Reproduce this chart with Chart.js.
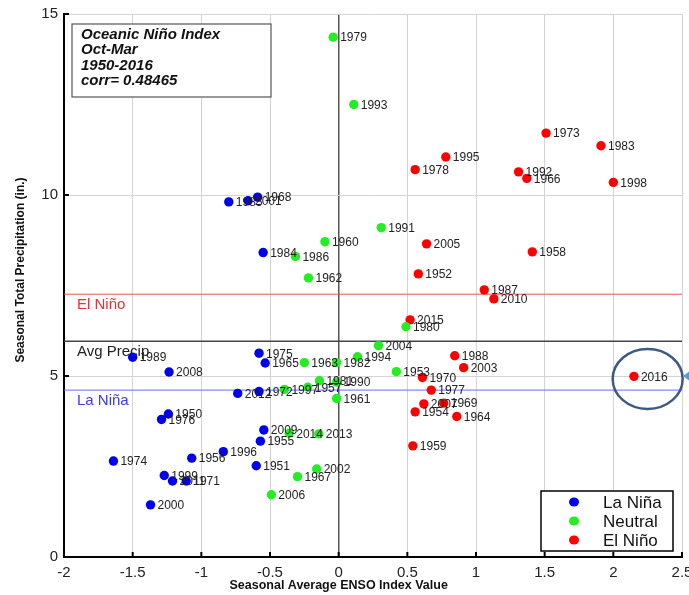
<!DOCTYPE html>
<html>
<head>
<meta charset="utf-8">
<script src="https://cdn.jsdelivr.net/npm/chart.js@4.4.0/dist/chart.umd.min.js"></script>
<style>
  html, body { margin: 0; padding: 0; background: #fff; }
</style>
</head>
<body>
<canvas id="enso-chart" width="689" height="595"></canvas>
<script>
// La Niña winters
const ninaYears  = [1985, 2001, 1968, 1984, 1989, 2008, 1975, 1965, 2012, 1972, 1950, 1976, 2009, 1955, 1996, 1956, 1974, 1951, 1999, 2011, 1971, 2000];
const ninaEnso   = [-0.80, -0.66, -0.59, -0.55, -1.50, -1.235, -0.58, -0.535, -0.735, -0.58, -1.24, -1.29, -0.545, -0.57, -0.84, -1.07, -1.64, -0.60, -1.27, -1.21, -1.11, -1.37];
const ninaPrecip = [9.81, 9.84, 9.94, 8.41, 5.52, 5.11, 5.63, 5.36, 4.52, 4.57, 3.95, 3.80, 3.51, 3.20, 2.91, 2.73, 2.65, 2.52, 2.25, 2.10, 2.10, 1.44];

// Neutral winters
const neutralYears  = [1979, 1993, 1991, 1960, 1986, 1962, 1980, 2004, 1994, 1963, 1982, 1953, 1981, 1990, 1997, 1957, 1961, 2014, 2013, 2002, 1967, 2006];
const neutralEnso   = [-0.04, 0.11, 0.31, -0.10, -0.315, -0.22, 0.49, 0.29, 0.137, -0.25, -0.015, 0.42, -0.14, -0.015, -0.395, -0.225, -0.015, -0.36, -0.145, -0.16, -0.30, -0.49];
const neutralPrecip = [14.36, 12.5, 9.10, 8.71, 8.30, 7.71, 6.36, 5.84, 5.53, 5.37, 5.37, 5.12, 4.87, 4.83, 4.63, 4.69, 4.38, 3.42, 3.40, 2.43, 2.22, 1.72];

// El Niño winters
const ninoYears  = [1973, 1983, 1995, 1978, 1992, 1966, 1998, 2005, 1958, 1952, 1987, 2010, 2015, 1988, 2003, 1970, 2016, 1977, 2007, 1969, 1954, 1964, 1959];
const ninoEnso   = [1.51, 1.91, 0.78, 0.557, 1.31, 1.37, 2.00, 0.64, 1.41, 0.58, 1.06, 1.13, 0.52, 0.845, 0.91, 0.61, 2.15, 0.674, 0.62, 0.765, 0.557, 0.86, 0.54];
const ninoPrecip = [11.71, 11.36, 11.05, 10.70, 10.64, 10.46, 10.35, 8.65, 8.43, 7.82, 7.38, 7.13, 6.55, 5.56, 5.23, 4.96, 4.99, 4.61, 4.23, 4.25, 4.01, 3.88, 3.07];

// reference lines
const elNinoLevel = 7.26;
const avgPrecipLevel = 5.96;
const laNinaLevel = 4.61;

const infoLines = ['Oceanic Niño Index', 'Oct-Mar', '1950-2016', 'corr= 0.48465'];

function toPoints(xs, ys) {
    return xs.map((x, i) => ({ x: x, y: ys[i] }));
}

const seriesYears = [ninaYears, neutralYears, ninoYears];

function drawThresholds(chart) {
    const ctx = chart.ctx;
    const area = chart.chartArea;
    const y = chart.scales.y;
    const lines = [
        { v: elNinoLevel, color: '#f05050', width: 1, text: 'El Niño', textColor: '#e83030', dy: 11 },
        { v: avgPrecipLevel, color: '#444', width: 1.3, text: 'Avg Precip', textColor: '#222', dy: 11 },
        { v: laNinaLevel, color: '#6a6aff', width: 1, text: 'La Niña', textColor: '#3a3ae8', dy: 11 }
    ];
    ctx.save();
    lines.forEach(l => {
        const py = y.getPixelForValue(l.v);
        ctx.strokeStyle = l.color;
        ctx.lineWidth = l.width;
        ctx.beginPath();
        ctx.moveTo(area.left, py);
        ctx.lineTo(area.right, py);
        ctx.stroke();
        ctx.fillStyle = l.textColor;
        ctx.font = '15px "Liberation Sans", Arial, sans-serif';
        ctx.textAlign = 'left';
        ctx.textBaseline = 'middle';
        ctx.fillText(l.text, area.left + 13, py + l.dy);
    });
    // inward tick marks on the axes
    ctx.strokeStyle = '#000';
    ctx.lineWidth = 2;
    chart.scales.y.ticks.forEach(t => {
        const py = y.getPixelForValue(t.value);
        ctx.beginPath();
        ctx.moveTo(area.left, py);
        ctx.lineTo(area.left + 5, py);
        ctx.stroke();
    });
    chart.scales.x.ticks.forEach(t => {
        const px = chart.scales.x.getPixelForValue(t.value);
        ctx.beginPath();
        ctx.moveTo(px, area.bottom);
        ctx.lineTo(px, area.bottom - 5);
        ctx.stroke();
    });
    ctx.restore();
}

function drawOverlay(chart) {
    const ctx = chart.ctx;
    const area = chart.chartArea;
    const xs = chart.scales.x;
    const ys = chart.scales.y;
    ctx.save();

    // year labels next to each dot
    ctx.font = '12px "Liberation Sans", Arial, sans-serif';
    ctx.fillStyle = '#222';
    ctx.textAlign = 'left';
    ctx.textBaseline = 'middle';
    chart.data.datasets.forEach((ds, di) => {
        const meta = chart.getDatasetMeta(di);
        meta.data.forEach((el, i) => {
            ctx.fillText(String(seriesYears[di][i]), el.x + 7, el.y + 1);
        });
    });

    // info box
    ctx.fillStyle = '#fff';
    ctx.strokeStyle = '#555';
    ctx.lineWidth = 1.2;
    ctx.fillRect(72, 24, 199, 73);
    ctx.strokeRect(72, 24, 199, 73);
    ctx.fillStyle = '#111';
    ctx.font = 'italic bold 15px "Liberation Sans", Arial, sans-serif';
    infoLines.forEach((t, i) => {
        ctx.fillText(t, 81, 35 + i * 15.2);
    });

    // legend box
    const lx = 541, ly = 491, lw = 132, lh = 60;
    ctx.fillStyle = '#fff';
    ctx.fillRect(lx, ly, lw, lh);
    ctx.strokeStyle = '#000';
    ctx.lineWidth = 1.5;
    ctx.strokeRect(lx, ly, lw, lh);
    ctx.font = '17px "Liberation Sans", Arial, sans-serif';
    chart.data.datasets.forEach((ds, i) => {
        const cy = ly + 11 + i * 19;
        ctx.fillStyle = ds.backgroundColor;
        ctx.beginPath();
        ctx.ellipse(lx + 33, cy, 5, 4.5, 0, 0, Math.PI * 2);
        ctx.fill();
        ctx.fillStyle = '#111';
        ctx.fillText(ds.label, lx + 62, cy + 1);
    });

    // circle around 2016
    ctx.strokeStyle = '#3d5a80';
    ctx.lineWidth = 2.5;
    ctx.beginPath();
    ctx.ellipse(xs.getPixelForValue(2.25), ys.getPixelForValue(4.92), 35, 30, 0, 0, Math.PI * 2);
    ctx.stroke();

    // arrow tip at right edge
    const ay = ys.getPixelForValue(5.0);
    ctx.fillStyle = '#5b9bd5';
    ctx.beginPath();
    ctx.moveTo(area.right + 1, ay);
    ctx.lineTo(area.right + 9, ay - 6);
    ctx.lineTo(area.right + 9, ay + 6);
    ctx.closePath();
    ctx.fill();

    // axis titles
    ctx.fillStyle = '#111';
    ctx.font = 'bold 12.5px "Liberation Sans", Arial, sans-serif';
    ctx.textAlign = 'center';
    ctx.fillText('Seasonal Average ENSO Index Value', xs.getPixelForValue(0), 586);
    ctx.translate(21, 270);
    ctx.rotate(-Math.PI / 2);
    ctx.font = 'bold 12px "Liberation Sans", Arial, sans-serif';
    ctx.fillText('Seasonal Total Precipitation (in.)', 0, 0);
    ctx.restore();
}

const overlayPlugin = {
    id: 'ensoOverlay',
    beforeDatasetsDraw: drawThresholds,
    afterDatasetsDraw: drawOverlay
};

const ctx = document.getElementById('enso-chart').getContext('2d');
const chart = new Chart(ctx, {
    type: 'scatter',
    data: {
        datasets: [
            { label: 'La Niña', data: toPoints(ninaEnso, ninaPrecip), backgroundColor: '#0000f0', borderWidth: 0, pointRadius: 4.7 },
            { label: 'Neutral', data: toPoints(neutralEnso, neutralPrecip), backgroundColor: '#22ee22', borderWidth: 0, pointRadius: 4.7 },
            { label: 'El Niño', data: toPoints(ninoEnso, ninoPrecip), backgroundColor: '#ff0000', borderWidth: 0, pointRadius: 4.7 }
        ]
    },
    options: {
        responsive: false,
        animation: false,
        layout: { padding: { top: 14, right: 7, left: 0, bottom: 0 } },
        plugins: {
            legend: { display: false },
            tooltip: { enabled: false }
        },
        scales: {
            x: {
                type: 'linear',
                min: -2,
                max: 2.5,
                ticks: {
                    stepSize: 0.5,
                    padding: 7,
                    color: '#222',
                    font: { family: '"Liberation Sans", Arial, sans-serif', size: 15 },
                    callback: v => String(Math.round(v * 10) / 10)
                },
                grid: {
                    drawTicks: false,
                    color: c => c.tick && c.tick.value === 0 ? '#555' : '#d4d4d4',
                    lineWidth: c => c.tick && c.tick.value === 0 ? 1.5 : 1
                },
                border: { display: true, color: '#000', width: 2 },
                afterFit: s => { s.height = 38; s.paddingLeft = 0; s.paddingRight = 0; }
            },
            y: {
                min: 0,
                max: 15,
                ticks: {
                    stepSize: 5,
                    padding: 6,
                    color: '#222',
                    font: { family: '"Liberation Sans", Arial, sans-serif', size: 15 }
                },
                grid: { drawTicks: false, color: '#d4d4d4' },
                border: { display: true, color: '#000', width: 2 },
                afterFit: s => { s.width = 64; s.paddingTop = 0; s.paddingBottom = 0; }
            }
        }
    },
    plugins: [overlayPlugin]
});
</script>
</body>
</html>
